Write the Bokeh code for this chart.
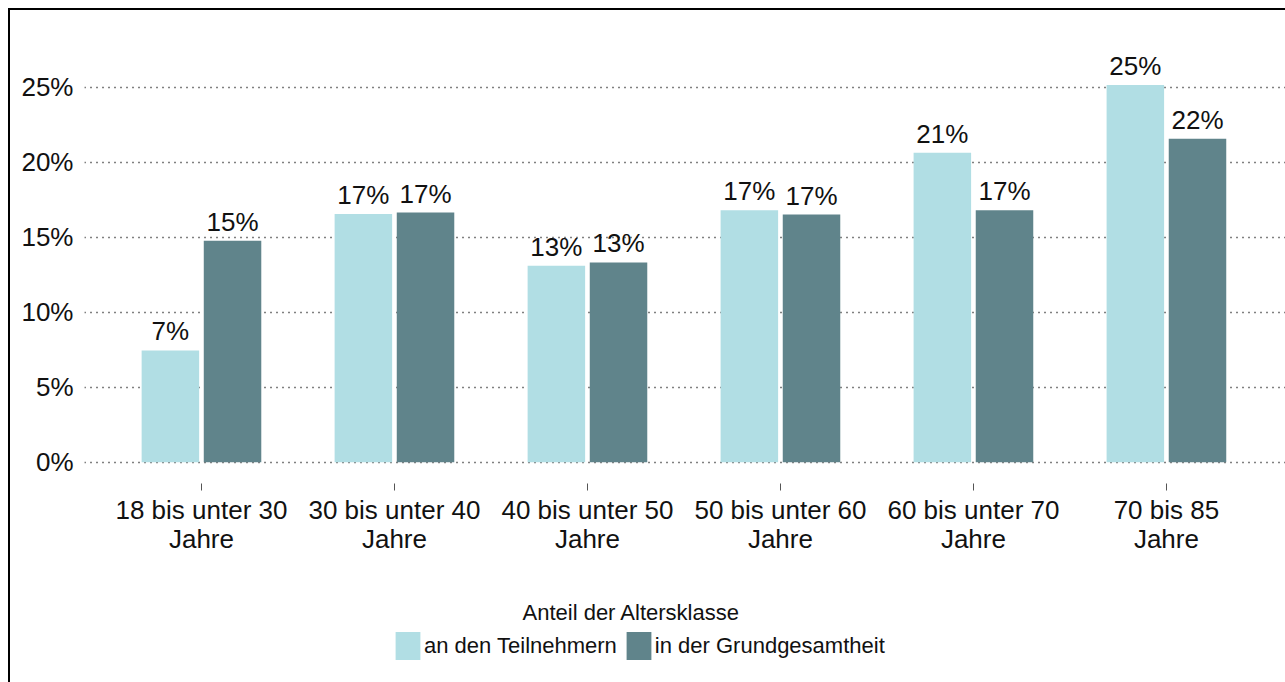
from bokeh.plotting import figure
from bokeh.layouts import column
from bokeh.models import ColumnDataSource, Range1d, LabelSet, Legend, LegendItem, Label, FixedTicker
from bokeh.core.properties import value
from bokeh.embed import file_html
from bokeh.resources import INLINE

categories = ["18 bis unter 30\nJahre", "30 bis unter 40\nJahre", "40 bis unter 50\nJahre",
              "50 bis unter 60\nJahre", "60 bis unter 70\nJahre", "70 bis 85\nJahre"]
teilnehmer = [7.45, 16.54, 13.1, 16.8, 20.63, 25.15]
grundgesamtheit = [14.76, 16.64, 13.32, 16.51, 16.8, 21.56]
y_ticks = [0, 5, 10, 15, 20, 25]
series_names = ["an den Teilnehmern", "in der Grundgesamtheit"]
legend_title = "Anteil der Altersklasse"
colors = ["#B1DEE4", "#60848B"]

FONT = "Liberation Sans"
idx = list(range(len(categories)))
off = 0.161
src_l = ColumnDataSource(dict(x=[i - off for i in idx], y=teilnehmer,
                              lab=[f"{round(v)}%" for v in teilnehmer]))
src_d = ColumnDataSource(dict(x=[i + off for i in idx], y=grundgesamtheit,
                              lab=[f"{round(v)}%" for v in grundgesamtheit]))

p = figure(width=1275, height=580, output_backend="svg", toolbar_location=None,
           x_range=Range1d(-0.606, 5.617), y_range=Range1d(-1.42, 28.78),
           min_border_left=74, min_border_right=0, min_border_top=20, min_border_bottom=107)
p.outline_line_color = None

r1 = p.vbar(x="x", top="y", width=0.298, bottom=0, source=src_l, fill_color=colors[0], line_color=None)
r2 = p.vbar(x="x", top="y", width=0.298, bottom=0, source=src_d, fill_color=colors[1], line_color=None)

for s in (src_l, src_d):
    p.add_layout(LabelSet(x="x", y="y", text="lab", source=s, text_align="center",
                          text_baseline="alphabetic", y_offset=10, text_font=value(FONT),
                          text_font_size=value("26px"), text_color="#111111"))

p.xgrid.grid_line_color = None
p.ygrid.grid_line_color = "black"
p.ygrid.grid_line_dash = "1 5"
p.ygrid.grid_line_width = 1.3
p.ygrid.level = "underlay"

p.yaxis.ticker = FixedTicker(ticks=y_ticks)
p.yaxis.major_label_overrides = {t: f"{t}%" for t in y_ticks}
p.yaxis.axis_line_color = None
p.yaxis.major_tick_line_color = None
p.yaxis.minor_tick_line_color = None
p.yaxis.major_label_text_font = FONT
p.yaxis.major_label_text_font_size = "26px"
p.yaxis.major_label_text_color = "#111111"
p.yaxis.major_label_standoff = 5

p.xaxis.ticker = FixedTicker(ticks=idx)
p.xaxis.major_label_overrides = {i: c for i, c in zip(idx, categories)}
p.xaxis.axis_line_color = None
p.xaxis.minor_tick_line_color = None
p.xaxis.major_tick_in = 0
p.xaxis.major_tick_out = 7
p.xaxis.major_tick_line_color = "#555555"
p.xaxis.major_label_text_font = FONT
p.xaxis.major_label_text_font_size = "26px"
p.xaxis.major_label_text_color = "#111111"
p.xaxis.major_label_text_line_height = 0.97
p.xaxis.major_label_standoff = 4

# legend strip (renderers hold one point outside the visible range: only the legend swatches show)
p2 = figure(width=1275, height=92, output_backend="svg", toolbar_location=None,
            x_range=Range1d(0, 1), y_range=Range1d(0, 1),
            x_axis_location=None, y_axis_location=None,
            min_border_left=0, min_border_right=0, min_border_top=0, min_border_bottom=0)
p2.outline_line_color = None
p2.grid.visible = False
l1 = p2.vbar(x=[-5], top=[-5], bottom=[-6], width=0.1, fill_color=colors[0], line_color=None)
l2 = p2.vbar(x=[-5], top=[-5], bottom=[-6], width=0.1, fill_color=colors[1], line_color=None)

legend = Legend(items=[LegendItem(label=series_names[0], renderers=[l1]),
                       LegendItem(label=series_names[1], renderers=[l2])],
                orientation="horizontal", location=(308, 19),
                glyph_width=31, glyph_height=35, label_standoff=1, spacing=6,
                padding=0, margin=0, border_line_color=None, background_fill_alpha=0,
                label_text_font=FONT, label_text_font_size="22px", label_text_color="#111111",
                label_height=35)
p2.add_layout(legend, "center")
p2.add_layout(Label(x=438, y=70, x_units="screen", y_units="screen", text=legend_title,
                    text_font=FONT, text_font_size="22px", text_color="#111111",
                    text_baseline="alphabetic", text_align="left"))

layout = column(p, p2, spacing=0,
                styles={"margin-left": "8px", "margin-top": "8px",
                        "border-left": "2px solid black", "border-top": "2px solid black"})

open("out.html", "w").write(file_html(layout, INLINE))
